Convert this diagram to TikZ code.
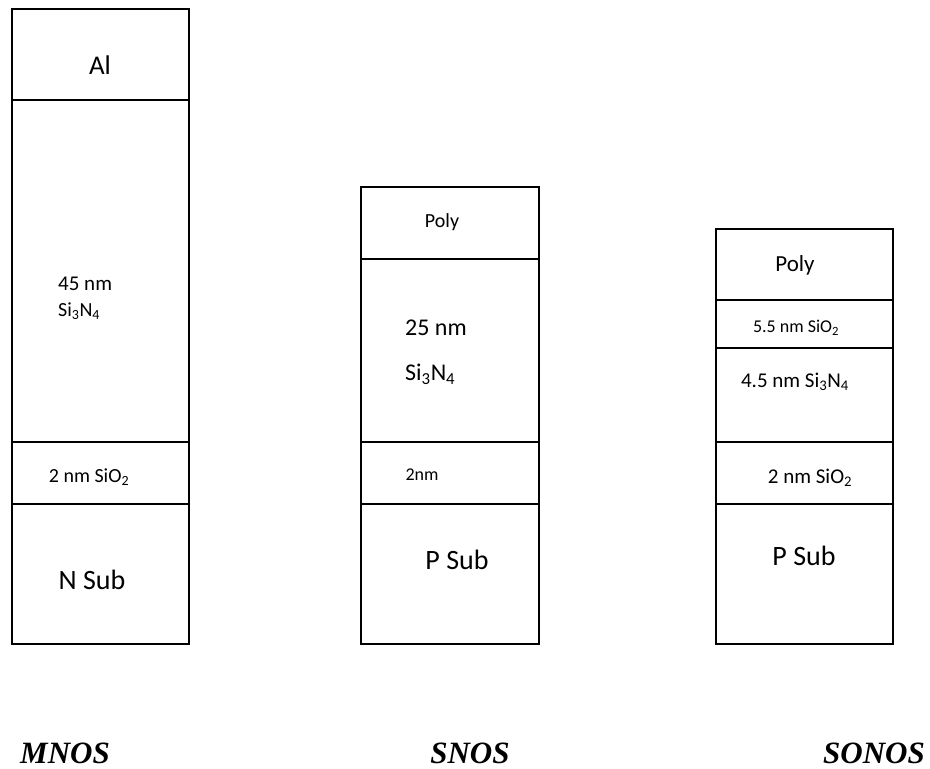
\documentclass[tikz,border=0pt]{standalone}
\usepackage{fontspec}
\setmainfont{Carlito}
\newfontfamily\capfont{Liberation Serif}
\usepackage{tikz}

\newcommand{\fsz}[1]{\fontsize{#1}{#1}\selectfont}
\newcommand{\sub}[1]{\textsubscript{#1}}

\tikzset{
  wall/.style={line width=1.6pt, line cap=rect},
  txt/.style={inner sep=0pt},
  devname/.style={inner sep=0pt, anchor=base, font=\capfont\bfseries\itshape\fsz{31}}
}

\begin{document}
\begin{tikzpicture}[x=1pt, y=-1pt]
\useasboundingbox (0,0) rectangle (930,769);

\def\B{644}

% MNOS stack
\draw[wall] (12,9) rectangle (189,\B);
\foreach \y in {100,442,504} {
    \draw[wall] (12,\y) -- (189,\y);
}
\node[txt, font=\fsz{27}] (al) at (100,65) {Al};
\node[txt, anchor=west, font=\fsz{21}] (mnit) at (58,284) {45 nm};
\node[txt, anchor=west, font=\fsz{20}] (mnitf) at (58,311) {Si\sub{3}N\sub{4}};
\node[txt, font=\fsz{20}] (mox) at (89,477) {2 nm SiO\sub{2}};
\node[txt, font=\fsz{28}] (nsub) at (92,580) {N Sub};

% SNOS stack
\draw[wall] (361,187) rectangle (539,\B);
\foreach \y in {259,442,504} {
    \draw[wall] (361,\y) -- (539,\y);
}
\node[txt, font=\fsz{20}] (spoly) at (442,222) {Poly};
\node[txt, anchor=west, font=\fsz{24}] (snit) at (405,328) {25 nm};
\node[txt, anchor=west, font=\fsz{24}] (snitf) at (405,374) {Si\sub{3}N\sub{4}};
\node[txt, font=\fsz{18}] (sox) at (422,475) {2nm};
\node[txt, font=\fsz{28}] (spsub) at (457,560) {P Sub};

% SONOS stack
\draw[wall] (716,229) rectangle (893,\B);
\foreach \y in {300,348,442,504} {
    \draw[wall] (716,\y) -- (893,\y);
}
\node[txt, font=\fsz{23}] (opoly) at (795,265) {Poly};
\node[txt, font=\fsz{18}] (otox) at (796,328) {5.5 nm SiO\sub{2}};
\node[txt, font=\fsz{21}] (onit) at (795,382) {4.5 nm Si\sub{3}N\sub{4}};
\node[txt, font=\fsz{21}] (obox) at (810,478) {2 nm SiO\sub{2}};
\node[txt, font=\fsz{28}] (opsub) at (804,556) {P Sub};

% captions
\node[devname] (mnos) at (65,763) {MNOS};
\node[devname] (snos) at (470,763) {SNOS};
\node[devname] (sonos) at (874,763) {SONOS};
\end{tikzpicture}
\end{document}
